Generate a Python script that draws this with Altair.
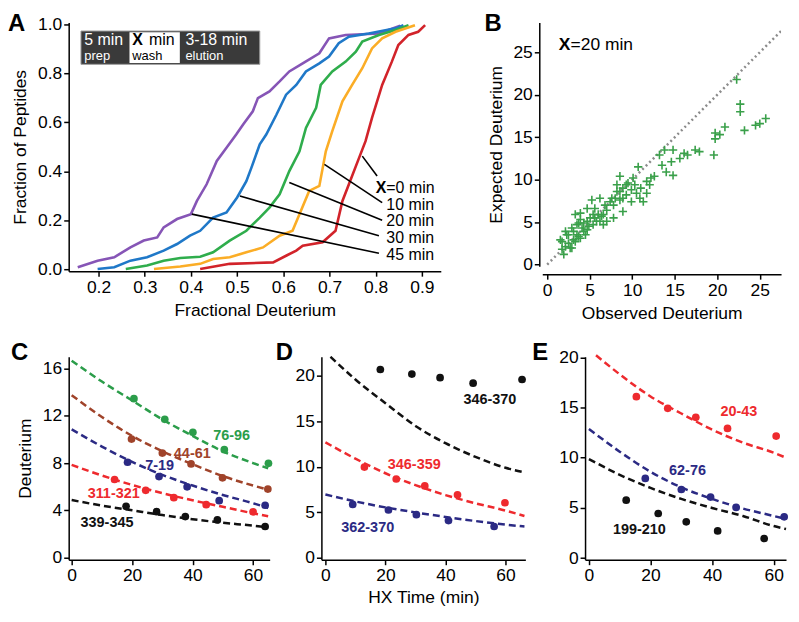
import altair as alt
import pandas as pd

FONT = "Liberation Sans"

# ---------------- Panel A : cumulative distributions ----------------
a_names = ["45 min", "30 min", "20 min", "10 min", "0 min"]
a_colors = ["#8655b6", "#1f78c8", "#2fad4c", "#fbad26", "#d2232a"]

purple_x = [0.155, 0.198, 0.234, 0.269, 0.298, 0.327, 0.341, 0.37, 0.4, 0.413, 0.434, 0.456, 0.477, 0.498, 0.513,
            0.534, 0.545, 0.57, 0.592, 0.613, 0.642, 0.678, 0.699, 0.735, 0.807, 0.853]
purple_y = [0.008, 0.035, 0.049, 0.089, 0.117, 0.13, 0.171, 0.205, 0.225, 0.279, 0.347, 0.442, 0.496, 0.55, 0.591,
            0.645, 0.699, 0.726, 0.767, 0.808, 0.841, 0.882, 0.943, 0.957, 0.963, 0.995]
blue_x = [0.198, 0.234, 0.269, 0.305, 0.341, 0.37, 0.398, 0.42, 0.448, 0.477, 0.5, 0.52, 0.531, 0.549, 0.563, 0.585,
          0.606, 0.628, 0.649, 0.678, 0.699, 0.72, 0.742, 0.785, 0.843, 0.86]
blue_y = [0.001, 0.008, 0.035, 0.049, 0.076, 0.103, 0.137, 0.157, 0.211, 0.232, 0.293, 0.36, 0.415, 0.51, 0.55, 0.631,
          0.713, 0.753, 0.808, 0.841, 0.869, 0.923, 0.95, 0.963, 0.984, 0.997]
green_x = [0.259, 0.305, 0.341, 0.377, 0.42, 0.448, 0.484, 0.52, 0.549, 0.57, 0.592, 0.613, 0.635, 0.649, 0.671, 0.681,
           0.706, 0.735, 0.757, 0.771, 0.807, 0.843, 0.871]
green_y = [0.001, 0.015, 0.035, 0.046, 0.051, 0.069, 0.117, 0.157, 0.211, 0.252, 0.306, 0.401, 0.482, 0.577, 0.659,
           0.753, 0.808, 0.848, 0.889, 0.93, 0.957, 0.977, 0.997]
orange_x = [0.32, 0.377, 0.42, 0.448, 0.484, 0.52, 0.556, 0.592, 0.62, 0.635, 0.656, 0.678, 0.692, 0.706, 0.728, 0.749,
            0.771, 0.792, 0.814, 0.843, 0.885]
orange_y = [0.001, 0.011, 0.022, 0.042, 0.049, 0.069, 0.089, 0.137, 0.157, 0.225, 0.32, 0.34, 0.482, 0.564, 0.686,
            0.753, 0.821, 0.902, 0.943, 0.97, 0.997]
red_x = [0.42, 0.484, 0.578, 0.607, 0.628, 0.642, 0.685, 0.713, 0.728, 0.742, 0.764, 0.778, 0.792, 0.814, 0.835, 0.849,
         0.871, 0.892, 0.907]
red_y = [0.001, 0.022, 0.028, 0.056, 0.076, 0.096, 0.11, 0.157, 0.279, 0.347, 0.455, 0.523, 0.618, 0.753, 0.848, 0.916,
         0.957, 0.97, 0.997]

lead_x1 = [0.771, 0.689, 0.613, 0.506, 0.402]
lead_y1 = [0.462, 0.428, 0.354, 0.299, 0.225]
lead_x2 = [0.803, 0.814, 0.814, 0.807, 0.807]
lead_y2 = [0.381, 0.272, 0.2, 0.137, 0.065]
lead_text = ["=0 min", "10 min", "20 min", "30 min", "45 min"]
lead_tx = [0.823, 0.823, 0.823, 0.823, 0.823]
lead_ty = [0.333, 0.263, 0.195, 0.127, 0.06]

# inset box (protocol)
box_x = [0.162]
box_x2 = [0.549]
box_y = [0.837]
box_y2 = [0.973]
wbox_x = [0.267]
wbox_x2 = [0.376]
wbox_y = [0.842]
wbox_y2 = [0.968]
inset_big = ["5 min", "min", "3-18 min"]
inset_big_x = [0.169, 0.309, 0.388]
inset_big_col = ["white", "black", "white"]
inset_small = ["prep", "wash", "elution"]
inset_small_x = [0.169, 0.273, 0.388]
inset_small_col = ["white", "black", "white"]

# ---------------- Panel B : expected vs observed ----------------
obs = [22.28, 22.7, 22.7, 23.2, 24.5, 25.0, 25.7, 19.75, 19.75, 20.3, 20.9, 19.6, 17.4, 17.9, 16.1, 16.5, 14.8, 15.6,
       13.2, 13.8, 13.5, 14.6, 14.8, 14.0, 12.6, 11.7, 12.05, 11.3, 10.7, 11.0, 10.5, 10.1, 9.5, 8.55, 8.9, 8.2, 8.0,
       8.9, 7.8, 7.4, 6.8, 6.2, 6.0, 5.25, 5.4, 4.7, 3.9, 3.3, 3.7, 4.3, 3.1, 2.3, 1.75, 1.55, 1.95, 1.75, 2.7, 2.5,
       3.1, 3.7, 4.7, 5.4, 6.2, 6.6, 7.0, 7.8, 8.55, 9.3, 9.9, 8.55, 9.9, 10.3, 7.6, 6.6, 5.8, 5.05, 4.3, 3.5, 2.9,
       2.5, 2.15, 3.5, 4.1, 4.9, 5.6, 6.4, 5.6, 4.7, 7.0, 8.9, 9.3, 8.2, 10.9, 11.7, 12.2, 2.9, 3.3, 3.9, 4.5, 2.15,
       3.9]
expd = [21.8, 18.9, 18.0, 15.8, 16.4, 16.6, 17.2, 15.5, 14.8, 15.3, 16.2, 12.9, 13.5, 13.3, 13.1, 12.9, 13.5, 12.5,
        12.9, 13.5, 11.7, 12.1, 10.5, 10.9, 10.4, 9.8, 9.4, 7.4, 11.5, 9.0, 8.4, 10.2, 9.6, 10.4, 9.0, 8.6, 7.8, 6.25,
        5.5, 7.4, 7.0, 7.8, 5.9, 7.6, 5.9, 5.1, 6.05, 5.9, 4.9, 3.9, 3.9, 3.5, 2.7, 2.9, 1.2, 1.8, 1.95, 2.5, 2.9, 3.3,
        4.1, 4.7, 5.1, 5.9, 6.4, 7.0, 7.6, 8.2, 8.8, 8.6, 7.4, 9.4, 7.8, 4.7, 5.1, 5.5, 4.9, 4.7, 4.3, 3.5, 3.9, 3.5,
        4.3, 4.5, 5.5, 5.7, 6.6, 6.6, 5.1, 7.8, 9.4, 9.4, 7.8, 8.4, 10.2, 1.95, 2.7, 3.1, 3.5, 2.1, 5.3]
diag = [0.0, 28.5]

# ---------------- Panels C, D, E : kinetics ----------------
fit_x = [0, 10, 20, 30, 40, 50, 60, 65]

c_names = ["76-96", "44-61", "7-19", "311-321", "339-345"]
c_colors = ["#2b9d4a", "#a0432a", "#2b2a84", "#ee2a2e", "#111111"]
c_px = [[20.6, 30.8, 40.1, 50.5, 65.1], [19.8, 30.0, 39.5, 49.9, 64.9], [18.5, 28.9, 38.2, 48.8, 64.0],
        [14.2, 24.5, 33.8, 44.5, 60.0], [18.0, 28.1, 37.6, 48.2, 64.0]]
c_py = [[13.45, 11.7, 10.6, 9.13, 7.98], [10.03, 8.85, 7.93, 6.75, 5.8], [8.07, 6.86, 5.99, 4.82, 4.43],
        [6.61, 5.69, 5.07, 4.48, 3.87], [4.34, 3.89, 3.47, 3.19, 2.63]]
c_fx = [fit_x] * 5
c_fy = [[16.67, 14.9, 13.3, 11.7, 10.3, 9.0, 8.0, 7.56], [13.75, 11.9, 10.3, 9.0, 7.9, 6.9, 6.1, 5.75],
        [10.85, 9.4, 8.1, 7.0, 6.1, 5.3, 4.6, 4.2], [7.85, 6.95, 6.15, 5.45, 4.85, 4.3, 3.75, 3.5],
        [4.87, 4.4, 4.0, 3.6, 3.25, 2.95, 2.7, 2.55]]
c_lx = [52.9, 39.9, 29.1, 13.9, 11.7]
c_ly = [10.25, 8.77, 7.79, 5.35, 2.94]

d_names = ["346-370", "346-359", "362-370"]
d_colors = ["#111111", "#ee2a2e", "#2b2a84"]
d_px = [[18.3, 28.8, 38.2, 49.2, 65.5], [13.0, 23.6, 33.1, 44.0, 59.8], [9.1, 21.0, 30.3, 41.0, 56.2]]
d_py = [[20.7, 20.2, 19.8, 19.2, 19.6], [9.98, 8.67, 7.91, 6.93, 6.06], [5.88, 5.26, 4.75, 4.1, 3.45]]
d_fx = [[1.7, 10, 20, 30, 40, 50, 60, 66.3], [0, 10, 20, 30, 40, 50, 60, 66.3], [0, 10, 20, 30, 40, 50, 60, 66.3]]
d_fy = [[22.1, 19.6, 17.0, 14.5, 12.6, 11.1, 9.9, 9.4], [12.7, 10.9, 9.3, 8.0, 6.9, 6.0, 5.2, 4.6],
        [6.97, 6.2, 5.55, 5.0, 4.5, 4.05, 3.65, 3.45]]
d_lx = [54.8, 29.6, 14.1]
d_ly = [17.35, 10.16, 3.3]

e_names = ["20-43", "62-76", "199-210"]
e_colors = ["#ee2a2e", "#2b2a84", "#111111"]
e_px = [[15.4, 25.6, 34.7, 45.0, 60.8], [18.3, 30.0, 39.5, 47.8, 63.4], [12.1, 22.5, 31.6, 41.8, 56.9]]
e_py = [[16.08, 14.92, 14.02, 12.92, 12.16], [7.94, 6.84, 6.08, 5.05, 4.12], [5.78, 4.45, 3.62, 2.72, 1.96]]
e_fx = [[2.3, 10, 20, 30, 40, 50, 60, 64.0], [0, 10, 20, 30, 40, 50, 60, 64.0], [0, 10, 20, 30, 40, 50, 60, 64.0]]
e_fy = [[20.2, 18.3, 16.1, 14.4, 12.8, 11.5, 10.5, 10.0], [12.86, 10.6, 8.6, 7.05, 5.9, 4.95, 4.2, 3.9],
        [9.87, 8.3, 7.0, 5.9, 5.0, 4.2, 3.2, 2.9]]
e_lx = [48.7, 32.0, 16.4]
e_ly = [14.58, 8.7, 2.79]

FS = 17.5  # axis text size


def letter(t, dx, dy):
    return alt.Chart(pd.DataFrame({"t": [t]})).mark_text(
        align="left", baseline="top", font=FONT, fontSize=24, fontWeight="bold", color="black").encode(
        x=alt.value(dx), y=alt.value(dy), text="t:N")


# ---------- build panel A ----------
rows = []
for name, col, xs, ys in zip(a_names, a_colors, [purple_x, blue_x, green_x, orange_x, red_x],
                             [purple_y, blue_y, green_y, orange_y, red_y]):
    for i, (x, y) in enumerate(zip(xs, ys)):
        rows.append({"s": name, "c": col, "x": x, "y": y, "i": i})
dfA = pd.DataFrame(rows)

xA = alt.X("x:Q", scale=alt.Scale(domain=[0.1354, 0.9409], nice=False, zero=False),
           axis=alt.Axis(values=[0.2, 0.3, 0.4, 0.5, 0.6, 0.7, 0.8, 0.9], format=".1f",
                         title="Fractional Deuterium", titlePadding=6))
yA = alt.Y("y:Q", scale=alt.Scale(domain=[-0.008, 1.008], nice=False, zero=False),
           axis=alt.Axis(values=[0, 0.2, 0.4, 0.6, 0.8, 1.0], format=".1f",
                         title="Fraction of Peptides", titlePadding=8))

a_lines = alt.Chart(dfA).mark_line(strokeWidth=2.6).encode(
    x=xA, y=yA, color=alt.Color("c:N", scale=None), detail="s:N", order="i:Q")

dfLead = pd.DataFrame({"x": lead_x1, "y": lead_y1, "x2": lead_x2, "y2": lead_y2})
a_lead = alt.Chart(dfLead).mark_rule(color="black", strokeWidth=1.6).encode(
    x="x:Q", y="y:Q", x2="x2:Q", y2="y2:Q")
dfLab = pd.DataFrame({"x": lead_tx, "y": lead_ty, "t": lead_text})
a_lab = alt.Chart(dfLab).mark_text(align="left", baseline="middle", font=FONT, fontSize=16,
                                   color="black").encode(x="x:Q", y="y:Q", text="t:N")
a_labX = alt.Chart(pd.DataFrame({"x": [0.8], "y": [0.333], "t": ["X"]})).mark_text(
    align="left", baseline="middle", font=FONT, fontSize=16, fontWeight="bold", color="black").encode(
    x="x:Q", y="y:Q", text="t:N")

a_box = alt.Chart(pd.DataFrame({"x": box_x, "x2": box_x2, "y": box_y, "y2": box_y2})).mark_rect(
    color="#3a3a3a", stroke="#9a9a9a", strokeWidth=1).encode(x="x:Q", x2="x2:Q", y="y:Q", y2="y2:Q")
a_wbox = alt.Chart(pd.DataFrame({"x": wbox_x, "x2": wbox_x2, "y": wbox_y, "y2": wbox_y2})).mark_rect(
    color="white").encode(x="x:Q", x2="x2:Q", y="y:Q", y2="y2:Q")
a_big = alt.Chart(pd.DataFrame({"x": inset_big_x, "y": [0.936] * 3, "t": inset_big, "c": inset_big_col})).mark_text(
    align="left", baseline="middle", font=FONT, fontSize=16).encode(
    x="x:Q", y="y:Q", text="t:N", color=alt.Color("c:N", scale=None))
a_bigX = alt.Chart(pd.DataFrame({"x": [0.273], "y": [0.936], "t": ["X"]})).mark_text(
    align="left", baseline="middle", font=FONT, fontSize=16, fontWeight="bold", color="black").encode(
    x="x:Q", y="y:Q", text="t:N")
a_small = alt.Chart(pd.DataFrame({"x": inset_small_x, "y": [0.869] * 3, "t": inset_small,
                                  "c": inset_small_col})).mark_text(
    align="left", baseline="middle", font=FONT, fontSize=13).encode(
    x="x:Q", y="y:Q", text="t:N", color=alt.Color("c:N", scale=None))

panelA = alt.layer(a_lines, a_lead, a_lab, a_labX, a_box, a_wbox, a_big, a_bigX, a_small,
                   letter("A", -61, -10)).properties(width=374, height=250)

# ---------- build panel B ----------
xB = alt.X("x:Q", scale=alt.Scale(domain=[-0.58, 27.5], nice=False, zero=False),
           axis=alt.Axis(values=[0, 5, 10, 15, 20, 25], title="Observed Deuterium", offset=8, titlePadding=6))
yB = alt.Y("y:Q", scale=alt.Scale(domain=[-0.2, 28.52], nice=False, zero=False),
           axis=alt.Axis(values=[0, 5, 10, 15, 20, 25], title="Expected Deuterium", offset=3, titlePadding=8))
b_diag = alt.Chart(pd.DataFrame({"x": diag, "y": diag})).mark_line(
    color="#8c8c8c", strokeWidth=2.5, strokeDash=[2, 3], clip=True).encode(x=xB, y=yB)
b_pts = alt.Chart(pd.DataFrame({"x": obs, "y": expd})).mark_point(
    shape="M-1,0L1,0M0,-1L0,1", filled=False, size=70, strokeWidth=1.6, color="#3aa04a", opacity=1).encode(
    x="x:Q", y="y:Q")
b_X = alt.Chart(pd.DataFrame({"x": [1.36], "y": [25.9], "t": ["X"]})).mark_text(
    align="left", baseline="middle", font=FONT, fontSize=17.5, fontWeight="bold", color="black").encode(
    x="x:Q", y="y:Q", text="t:N")
b_txt = alt.Chart(pd.DataFrame({"x": [2.75], "y": [25.9], "t": ["=20 min"]})).mark_text(
    align="left", baseline="middle", font=FONT, fontSize=17.5, color="black").encode(
    x="x:Q", y="y:Q", text="t:N")
panelB = alt.layer(b_diag, b_pts, b_X, b_txt, letter("B", -58, -10)).properties(width=240, height=245)


# ---------- kinetics panels ----------
def kinetics(names, colors, px, py, fx, fy, lx, ly, xdom, ydom, yticks, w, h, let, ldx,
             xtitle=None, ytitle=None):
    prow, frow = [], []
    for n, c, xs, ys in zip(names, colors, px, py):
        for x, y in zip(xs, ys):
            prow.append({"s": n, "c": c, "x": x, "y": y})
    for n, c, xs, ys in zip(names, colors, fx, fy):
        for i, (x, y) in enumerate(zip(xs, ys)):
            frow.append({"s": n, "c": c, "x": x, "y": y, "i": i})
    col = alt.Color("c:N", scale=None)
    xax = alt.Axis(values=[0, 10, 20, 30, 40, 50, 60], title=xtitle, titlePadding=5) if xtitle else \
        alt.Axis(values=[0, 10, 20, 30, 40, 50, 60], title=None)
    yax = alt.Axis(values=yticks, title=ytitle, titlePadding=8) if ytitle else \
        alt.Axis(values=yticks, title=None)
    X = alt.X("x:Q", scale=alt.Scale(domain=xdom, nice=False, zero=False), axis=xax)
    Y = alt.Y("y:Q", scale=alt.Scale(domain=ydom, nice=False, zero=False), axis=yax)
    lines = alt.Chart(pd.DataFrame(frow)).mark_line(
        strokeWidth=2.5, strokeDash=[7, 4], interpolate="monotone").encode(
        x=X, y=Y, color=col, detail="s:N", order="i:Q")
    pts = alt.Chart(pd.DataFrame(prow)).mark_circle(size=60, opacity=1).encode(x="x:Q", y="y:Q", color=col)
    labs = alt.Chart(pd.DataFrame({"s": names, "c": colors, "x": lx, "y": ly})).mark_text(
        align="center", baseline="middle", font=FONT, fontSize=14.5, fontWeight="bold").encode(
        x="x:Q", y="y:Q", text="s:N", color=col)
    return alt.layer(lines, pts, labs, letter(let, ldx, -16)).properties(width=w, height=h)


panelC = kinetics(c_names, c_colors, c_px, c_py, c_fx, c_fy, c_lx, c_ly, [-0.98, 65.5], [-0.18, 17.0],
                  [0, 2, 4, 6, 8, 10, 12, 14, 16], 202, 204, "C", -58, ytitle="Deuterium")
panelD = kinetics(d_names, d_colors, d_px, d_py, d_fx, d_fy, d_lx, d_ly, [-1.33, 66.6], [-0.2, 22.1],
                  [0, 5, 10, 15, 20], 205, 204, "D", -46, xtitle="HX Time (min)")
panelE = kinetics(e_names, e_colors, e_px, e_py, e_fx, e_fy, e_lx, e_ly, [-1.26, 64.0], [-0.15, 20.05],
                  [0, 5, 10, 15, 20], 202, 204, "E", -53)

top = alt.hconcat(panelA, panelB, spacing=44)
bottom = alt.hconcat(panelC, panelD, panelE, spacing=2)
chart = alt.vconcat(top, bottom, spacing=19).properties(
    padding={"left": 0, "top": 3, "right": 0, "bottom": 0}
).configure_view(stroke=None).configure_axis(
    grid=False, domainColor="black", domainWidth=1.5, tickColor="black", tickWidth=1.5, tickSize=5,
    labelFont=FONT, labelFontSize=FS, labelColor="black", labelPadding=2,
    titleFont=FONT, titleFontSize=FS, titleFontWeight="normal", titleColor="black"
)

chart.save("out.html", embed_options={"renderer": "svg", "actions": False})
